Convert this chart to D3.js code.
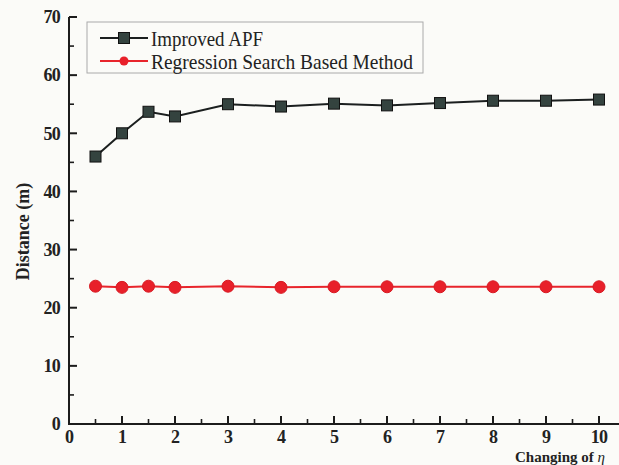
<!DOCTYPE html>
<html>
<head>
<meta charset="utf-8">
<script src="https://cdn.jsdelivr.net/npm/d3@7"></script>
<style>
  html, body { margin: 0; padding: 0; background: #fbfbf8; }
  svg { display: block; }
  text { font-family: "Liberation Serif", "Times New Roman", serif; }
</style>
</head>
<body>
<svg id="chart" width="619" height="465"></svg>
<script>
// x positions (values of eta)
const etaValues = [0.5, 1, 1.5, 2, 3, 4, 5, 6, 7, 8, 9, 10];
// distance travelled by each method (m)
const improvedAPF = [46.0, 50.0, 53.7, 52.9, 55.0, 54.6, 55.1, 54.8, 55.2, 55.6, 55.6, 55.8];
const regressionSearch = [23.7, 23.5, 23.7, 23.5, 23.7, 23.5, 23.6, 23.6, 23.6, 23.6, 23.6, 23.6];
const seriesNames = ["Improved APF", "Regression Search Based Method"];
const xTicks = [0, 1, 2, 3, 4, 5, 6, 7, 8, 9, 10];
const yTicks = [0, 10, 20, 30, 40, 50, 60, 70];

const svg = d3.select("#chart");
const margin = { left: 69, right: 20, top: 17, bottom: 41 };
const W = 619, H = 465;

const x = d3.scaleLinear().domain([0, 10]).range([margin.left, 599]);
const y = d3.scaleLinear().domain([0, 70]).range([H - margin.bottom, margin.top]);

const axisColor = "#1c1c1c";
const labelColor = "#222";

// y axis with inward ticks
const yAxis = svg.append("g").attr("transform", `translate(${margin.left},0)`);
yAxis.append("line")
  .attr("x1", 0).attr("x2", 0)
  .attr("y1", y(0) + 1).attr("y2", y(70))
  .attr("stroke", axisColor).attr("stroke-width", 2);
yAxis.selectAll("line.major").data(yTicks).join("line")
  .attr("class", "major")
  .attr("x1", 0).attr("x2", 8)
  .attr("y1", d => y(d)).attr("y2", d => y(d))
  .attr("stroke", axisColor).attr("stroke-width", 2);
yAxis.selectAll("line.minor").data(d3.range(5, 70, 10)).join("line")
  .attr("class", "minor")
  .attr("x1", 0).attr("x2", 5)
  .attr("y1", d => y(d)).attr("y2", d => y(d))
  .attr("stroke", axisColor).attr("stroke-width", 1.6);
yAxis.selectAll("text").data(yTicks).join("text")
  .attr("x", -9).attr("y", d => y(d))
  .attr("dy", "0.35em")
  .attr("text-anchor", "end")
  .attr("font-size", 18).attr("font-weight", "bold")
  .attr("fill", labelColor)
  .attr("letter-spacing", -0.8)
  .text(d => d);

// x axis with inward ticks
const xAxis = svg.append("g").attr("transform", `translate(0,${y(0)})`);
xAxis.append("line")
  .attr("x1", margin.left - 1).attr("x2", 619)
  .attr("y1", 0).attr("y2", 0)
  .attr("stroke", axisColor).attr("stroke-width", 2);
xAxis.selectAll("line.major").data(xTicks).join("line")
  .attr("class", "major")
  .attr("x1", d => x(d)).attr("x2", d => x(d))
  .attr("y1", 0).attr("y2", -8)
  .attr("stroke", axisColor).attr("stroke-width", 2);
xAxis.selectAll("line.minor").data(d3.range(0.5, 10, 1)).join("line")
  .attr("class", "minor")
  .attr("x1", d => x(d)).attr("x2", d => x(d))
  .attr("y1", 0).attr("y2", -5)
  .attr("stroke", axisColor).attr("stroke-width", 1.6);
xAxis.selectAll("text").data(xTicks).join("text")
  .attr("x", d => x(d)).attr("y", 19)
  .attr("text-anchor", "middle")
  .attr("font-size", 18).attr("font-weight", "bold")
  .attr("fill", labelColor)
  .attr("letter-spacing", -0.8)
  .text(d => d);

// axis titles
svg.append("text")
  .attr("transform", `translate(29,${(y(0) + y(70)) / 2 + 11}) rotate(-90)`)
  .attr("text-anchor", "middle")
  .attr("font-size", 18).attr("font-weight", "bold")
  .attr("fill", labelColor)
  .text("Distance (m)");

const xt = svg.append("text")
  .attr("x", 515).attr("y", 462)
  .attr("font-size", 15).attr("font-weight", "bold")
  .attr("fill", labelColor);
xt.append("tspan").text("Changing of ");
xt.append("tspan").attr("font-style", "italic").attr("font-weight", "normal").text("η");

// series lines and markers
const line = d3.line().x(d => x(d[0])).y(d => y(d[1]));
const apfData = d3.zip(etaValues, improvedAPF);
const regData = d3.zip(etaValues, regressionSearch);

svg.append("path").datum(regData)
  .attr("d", line).attr("fill", "none")
  .attr("stroke", "#e8252c").attr("stroke-width", 2);
svg.selectAll("circle.reg").data(regData).join("circle")
  .attr("class", "reg")
  .attr("cx", d => x(d[0])).attr("cy", d => y(d[1]))
  .attr("r", 6)
  .attr("fill", "#e8202a").attr("stroke", "#d81b24").attr("stroke-width", 1);

svg.append("path").datum(apfData)
  .attr("d", line).attr("fill", "none")
  .attr("stroke", "#1b1f1f").attr("stroke-width", 2);
svg.selectAll("rect.apf").data(apfData).join("rect")
  .attr("class", "apf")
  .attr("x", d => x(d[0]) - 5.5).attr("y", d => y(d[1]) - 5.5)
  .attr("width", 11).attr("height", 11)
  .attr("fill", "#34433f").attr("stroke", "#111").attr("stroke-width", 1);

// legend
const lg = svg.append("g");
lg.append("rect")
  .attr("x", 87).attr("y", 22).attr("width", 336).attr("height", 51)
  .attr("fill", "none").attr("stroke", "#aaa").attr("stroke-width", 1);
const rows = [
  { name: seriesNames[0], y: 38, color: "#1b1f1f", shape: "square", width: 112 },
  { name: seriesNames[1], y: 61, color: "#e8252c", shape: "circle", width: 262 }
];
rows.forEach(r => {
  lg.append("line")
    .attr("x1", 100).attr("x2", 148)
    .attr("y1", r.y).attr("y2", r.y)
    .attr("stroke", r.color).attr("stroke-width", 2);
  if (r.shape === "square") {
    lg.append("rect")
      .attr("x", 124 - 5.5).attr("y", r.y - 5.5)
      .attr("width", 11).attr("height", 11)
      .attr("fill", "#34433f").attr("stroke", "#111");
  } else {
    lg.append("circle")
      .attr("cx", 124).attr("cy", r.y).attr("r", 4.5)
      .attr("fill", "#e8202a");
  }
  lg.append("text")
    .attr("x", 151).attr("y", r.y)
    .attr("dy", "0.35em")
    .attr("font-size", 22)
    .attr("textLength", r.width)
    .attr("lengthAdjust", "spacingAndGlyphs")
    .attr("fill", labelColor)
    .text(r.name);
});
</script>
</body>
</html>
